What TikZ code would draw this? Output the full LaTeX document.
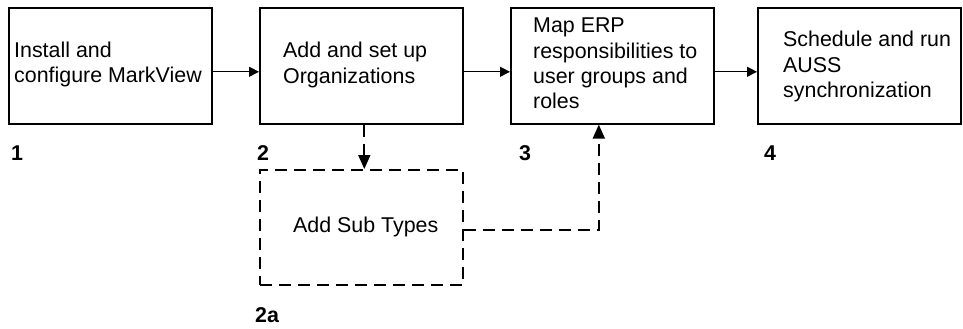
\documentclass[tikz,border=0pt]{standalone}
\usepackage{fontspec}
\setmainfont{Liberation Sans}
\usetikzlibrary{arrows.meta,calc}
\begin{document}
\begin{tikzpicture}[x=1pt,y=-1pt,
  box/.style={draw, line width=1.6pt, fill=white, minimum width=203pt, minimum height=116pt, inner sep=0pt, anchor=north west},
  dbox/.style={box, dash pattern=on 12pt off 7pt},
  txt/.style={anchor=base west, inner sep=0pt, font=\fontsize{21.4}{25.3}\selectfont},
  num/.style={anchor=base west, inner sep=0pt, font=\fontsize{21.4}{25.3}\selectfont\bfseries},
  conn/.style={line width=1pt, -{Triangle[length=10pt,width=10pt]}},
  dconn/.style={line width=1.8pt, dash pattern=on 12pt off 7pt, -{Triangle[length=14pt,width=12pt]}}]
\useasboundingbox (0,0) rectangle (963,329);
\node[box] (b1) at (8,7) {};
\node[box] (b2) at (259,7) {};
\node[box] (b3) at (510,7) {};
\node[box] (b4) at (757,7) {};
\node[dbox, minimum height=115pt] (b2a) at (259,169) {};

\node[txt] (t1) at (14,57.5) {\begin{tabular}[t]{@{}l@{}}Install and\\configure MarkView\end{tabular}};
\node[txt] (t2) at (283,58) {\begin{tabular}[t]{@{}l@{}}Add and set up\\Organizations\end{tabular}};
\node[txt] (t3) at (533,33) {\begin{tabular}[t]{@{}l@{}}Map ERP\\responsibilities to\\user groups and\\roles\end{tabular}};
\node[txt] (t4) at (783,47) {\begin{tabular}[t]{@{}l@{}}Schedule and run\\AUSS\\synchronization\end{tabular}};
\node[txt] (t2a) at (293,232) {Add Sub Types};

\draw[conn] ($(b1.east)+(0,6)$) -- ($(b2.west)+(0,6)$);
\draw[conn] ($(b2.east)+(0,6)$) -- ($(b3.west)+(0,6)$);
\draw[conn] ($(b3.east)+(0,6)$) -- ($(b4.west)+(0,6)$);
\draw[dconn] ($(b2.south)+(3,0)$) -- ($(b2a.north)+(3,0)$);
\draw[dconn] ($(b2a.east)+(0,2.5)$) -| ($(b3.south)+(-13.5,0)$);

\node[num] (n1) at (11,160) {1};
\node[num] (n2) at (257,160) {2};
\node[num] (n3) at (519,160) {3};
\node[num] (n4) at (764,160) {4};
\node[num] (n2a) at (255,322) {2a};
\end{tikzpicture}
\end{document}
